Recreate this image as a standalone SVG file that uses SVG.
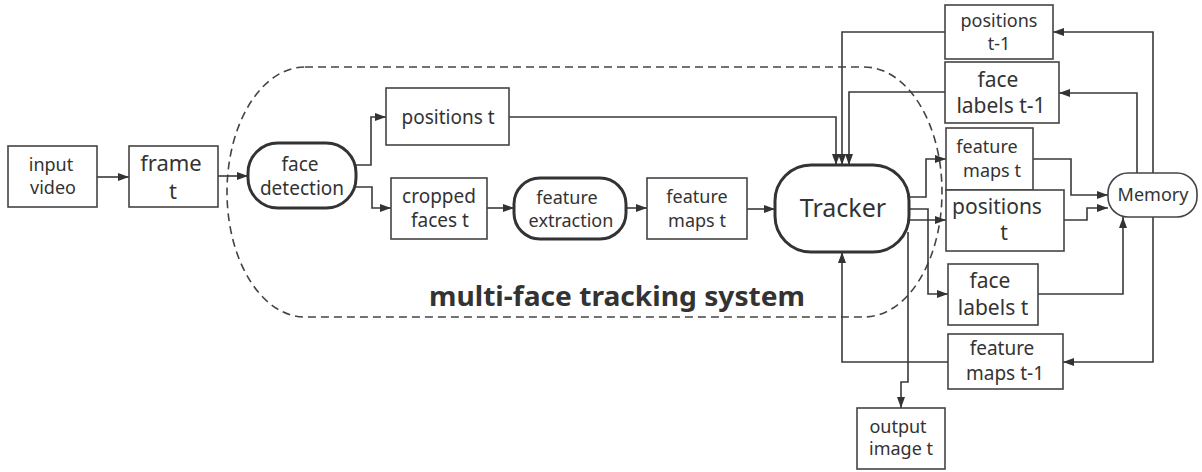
<svg xmlns="http://www.w3.org/2000/svg" width="1202" height="472" viewBox="0 0 1202 472">
  <style>
    text { font-family: "Noto Sans", "Open Sans", "DejaVu Sans", sans-serif; fill: #333; text-anchor: middle; }
    .box { fill: #fff; stroke: #444; stroke-width: 1.6; }
    .proc { fill: #fff; stroke: #333; stroke-width: 3; }
    .mem { fill: #fff; stroke: #444; stroke-width: 1.6; }
    .wire { fill: none; stroke: #3a3a3a; stroke-width: 1.6; marker-end: url(#arrow); }
    .frame { fill: none; stroke: #444; stroke-width: 1.6; stroke-dasharray: 8 5; }
    .title { font-weight: bold; font-size: 27px; }
  </style>
  <defs>
    <marker id="arrow" markerUnits="userSpaceOnUse" markerWidth="11" markerHeight="8" refX="11" refY="4" orient="auto">
      <path d="M0,0 L11,4 L0,8 z" fill="#333"/>
    </marker>
  </defs>

  <rect width="1202" height="472" fill="#fff"/>

  <!-- system boundary -->
  <g id="system-boundary">
    <rect class="frame" x="227" y="67" width="715" height="250" rx="78" ry="125"/>
    <text class="title" x="617" y="306" textLength="376" lengthAdjust="spacingAndGlyphs">multi-face tracking system</text>
  </g>

  <!-- connectors -->
  <g id="connectors">
    <path class="wire" d="M97,177 H129"/>
    <path class="wire" d="M218,176 H248"/>
    <path class="wire" d="M356,165 H371 V117 H386"/>
    <path class="wire" d="M356,187 H372 V208 H391"/>
    <path class="wire" d="M487,208 H514"/>
    <path class="wire" d="M626,208 H647"/>
    <path class="wire" d="M747,209 H775"/>
    <path class="wire" d="M509,117 H836 V165"/>
    <path class="wire" d="M945,32 H842 V165"/>
    <path class="wire" d="M945,92 H849 V165"/>
    <path class="wire" d="M909,197 H926 V159 H946"/>
    <path class="wire" d="M909,209 H928 V294 H948"/>
    <path class="wire" d="M909,220 H946"/>
    <path class="wire" d="M908,232 V382 H901 V408"/>
    <path class="wire" d="M948,362 H842 V252"/>
    <path class="wire" d="M1153,173 V32 H1053"/>
    <path class="wire" d="M1137,173 V93 H1059"/>
    <path class="wire" d="M1153,217 V362 H1063"/>
    <path class="wire" d="M1033,159 H1071 V195 H1108"/>
    <path class="wire" d="M1064,220 H1087 V208 H1108"/>
    <path class="wire" d="M1038,294 H1123 V217"/>
  </g>

  <g id="input-video">
    <rect class="box" x="8" y="146" width="89" height="61"/>
    <text x="51" y="171" font-size="18">input</text>
    <text x="53" y="194" font-size="18">video</text>
  </g>

  <g id="frame-t">
    <rect class="box" x="129" y="146" width="89" height="61"/>
    <text x="171" y="171" font-size="22">frame</text>
    <text x="173" y="199" font-size="22">t</text>
  </g>

  <g id="face-detection">
    <rect class="proc" x="248" y="143" width="108" height="65" rx="30" ry="30"/>
    <text x="300" y="171" font-size="19">face</text>
    <text x="302" y="195" font-size="19">detection</text>
  </g>

  <g id="positions-t-top">
    <rect class="box" x="386" y="88" width="123" height="57"/>
    <text x="448" y="124" font-size="19">positions t</text>
  </g>

  <g id="cropped-faces-t">
    <rect class="box" x="391" y="178" width="96" height="61"/>
    <text x="439" y="203" font-size="19">cropped</text>
    <text x="440" y="227" font-size="19">faces t</text>
  </g>

  <g id="feature-extraction">
    <rect class="proc" x="514" y="178" width="112" height="61" rx="26" ry="26"/>
    <text x="567" y="204" font-size="18">feature</text>
    <text x="571" y="227" font-size="18">extraction</text>
  </g>

  <g id="feature-maps-t-mid">
    <rect class="box" x="647" y="178" width="100" height="61"/>
    <text x="697" y="203" font-size="18">feature</text>
    <text x="697" y="227" font-size="18">maps t</text>
  </g>

  <g id="tracker">
    <rect class="proc" x="775" y="165" width="134" height="87" rx="36" ry="36"/>
    <text x="843" y="217" font-size="25">Tracker</text>
  </g>

  <g id="positions-t-1">
    <rect class="box" x="945" y="5" width="108" height="54"/>
    <text x="999" y="27" font-size="18">positions</text>
    <text x="999" y="50" font-size="18">t-1</text>
  </g>

  <g id="face-labels-t-1">
    <rect class="box" x="945" y="62" width="114" height="61"/>
    <text x="998" y="87" font-size="21">face</text>
    <text x="1001" y="113" font-size="21">labels t-1</text>
  </g>

  <g id="feature-maps-t">
    <rect class="box" x="946" y="128" width="87" height="62"/>
    <text x="987" y="153" font-size="18">feature</text>
    <text x="992" y="177" font-size="18">maps t</text>
  </g>

  <g id="positions-t">
    <rect class="box" x="946" y="190" width="118" height="61"/>
    <text x="997" y="214" font-size="21">positions</text>
    <text x="1004" y="240" font-size="21">t</text>
  </g>

  <g id="face-labels-t">
    <rect class="box" x="948" y="264" width="90" height="61"/>
    <text x="990" y="288" font-size="21">face</text>
    <text x="993" y="315" font-size="21">labels t</text>
  </g>

  <g id="feature-maps-t-1">
    <rect class="box" x="948" y="334" width="115" height="55"/>
    <text x="1002" y="355" font-size="19">feature</text>
    <text x="1005" y="380" font-size="19">maps t-1</text>
  </g>

  <g id="output-image-t">
    <rect class="box" x="857" y="408" width="88" height="61"/>
    <text x="898" y="433" font-size="18">output</text>
    <text x="901" y="455" font-size="18">image t</text>
  </g>

  <g id="memory">
    <rect class="mem" x="1108" y="173" width="89" height="44" rx="20" ry="20"/>
    <text x="1153" y="201" font-size="18">Memory</text>
  </g>
</svg>
